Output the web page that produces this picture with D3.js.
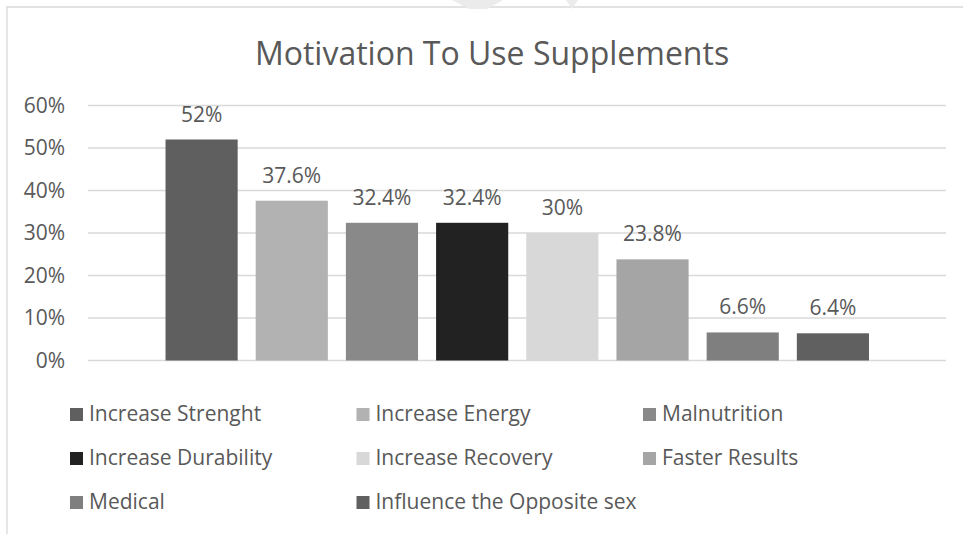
<!DOCTYPE html>
<html>
<head>
<meta charset="utf-8">
<script src="https://cdn.jsdelivr.net/npm/d3@7/dist/d3.min.js"></script>
<style>
  html, body { margin: 0; padding: 0; background: #fff; }
  svg { display: block; }
  text { font-family: "Open Sans", "Noto Sans", sans-serif; fill: #595959; }
</style>
</head>
<body>
<svg id="chart" width="963" height="534"></svg>
<script>
const categories = ['Increase Strenght', 'Increase Energy', 'Malnutrition', 'Increase Durability',
    'Increase Recovery', 'Faster Results', 'Medical', 'Influence the Opposite sex'];
const values = [52, 37.6, 32.4, 32.4, 30, 23.8, 6.6, 6.4];
const valueLabels = ['52%', '37.6%', '32.4%', '32.4%', '30%', '23.8%', '6.6%', '6.4%'];
const colors = ['#5f5f5f', '#b2b2b2', '#898989', '#222222', '#d8d8d8', '#a5a5a5', '#7f7f7f', '#606060'];
const yTicks = [0, 10, 20, 30, 40, 50, 60];

const width = 963;
const height = 534;
const plot = { left: 88, right: 946, top: 105.5, bottom: 360.5 };

const svg = d3.select('#chart');

// chart border (only left and top visible)
svg.append('path')
    .attr('d', `M7,${height} L7,7 L${width},7`)
    .attr('fill', 'none')
    .attr('stroke', '#d9d9d9')
    .attr('stroke-width', 1.3);

// faint watermark fragments at the top edge
svg.append('path')
    .attr('d', 'M452,0 L469,9 L487,9 L503,0 Z')
    .attr('fill', '#ebebeb');
svg.append('path')
    .attr('d', 'M566,0 L572,9 L578,0 Z')
    .attr('fill', '#ebebeb');

// title
svg.append('text')
    .attr('x', 492)
    .attr('y', 65)
    .attr('text-anchor', 'middle')
    .style('font-size', '32px')
    .text('Motivation To Use Supplements');

const y = d3.scaleLinear()
    .domain([0, 60])
    .range([plot.bottom, plot.top]);

const x = d3.scaleBand()
    .domain(categories)
    .range([156.5, 878])
    .paddingInner(0.2)
    .paddingOuter(0.1);

// gridlines
svg.append('g')
    .selectAll('line')
    .data(yTicks)
    .enter()
    .append('line')
    .attr('x1', plot.left)
    .attr('x2', plot.right)
    .attr('y1', d => y(d))
    .attr('y2', d => y(d))
    .attr('stroke', '#d9d9d9')
    .attr('stroke-width', 1.3);

// y axis labels
const yAxis = d3.axisLeft(y)
    .tickValues(yTicks)
    .tickFormat(d => d + '%')
    .tickSize(0)
    .tickPadding(0);

const yg = svg.append('g')
    .attr('transform', 'translate(65,0)')
    .call(yAxis);
yg.select('.domain').remove();
yg.selectAll('text')
    .style('font-size', '21px')
    .style('font-family', '"Open Sans", sans-serif')
    .attr('fill', '#595959');

// bars
svg.append('g')
    .selectAll('rect')
    .data(values)
    .enter()
    .append('rect')
    .attr('x', (d, i) => x(categories[i]))
    .attr('y', d => y(d))
    .attr('width', x.bandwidth())
    .attr('height', d => y(0) - y(d))
    .attr('fill', (d, i) => colors[i]);

// value labels
svg.append('g')
    .selectAll('text')
    .data(values)
    .enter()
    .append('text')
    .attr('x', (d, i) => x(categories[i]) + x.bandwidth() / 2)
    .attr('y', d => y(d) - 18)
    .attr('text-anchor', 'middle')
    .style('font-size', '21px')
    .text((d, i) => valueLabels[i]);

// legend, 3 columns
const legendCols = [70, 356.5, 643];
const legendRows = [408, 452, 496];
const legend = svg.append('g')
    .selectAll('g')
    .data(categories)
    .enter()
    .append('g')
    .attr('transform', (d, i) => `translate(${legendCols[i % 3]},${legendRows[Math.floor(i / 3)]})`);

legend.append('rect')
    .attr('width', 13)
    .attr('height', 13)
    .attr('fill', (d, i) => colors[i]);

legend.append('text')
    .attr('x', 19)
    .attr('y', 13)
    .style('font-size', '21px')
    .text(d => d);
</script>
</body>
</html>
